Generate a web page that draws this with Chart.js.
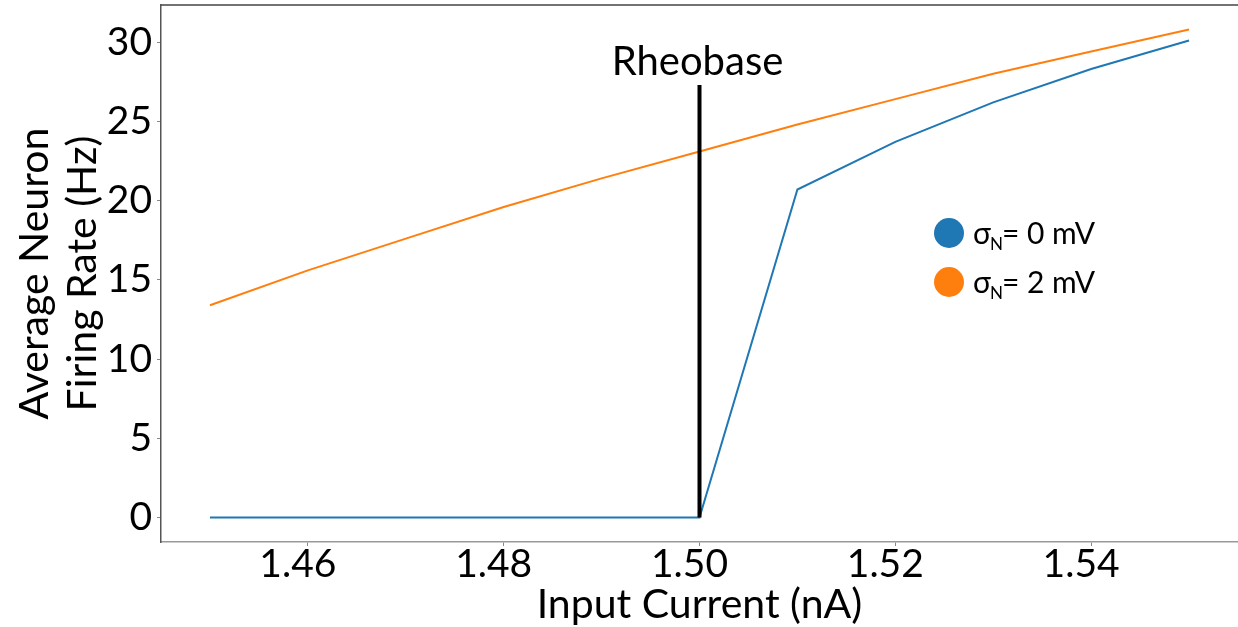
<!DOCTYPE html>
<html>
<head>
<meta charset="utf-8">
<script src="https://cdn.jsdelivr.net/npm/chart.js@4.4.1/dist/chart.umd.min.js"></script>
<style>
  body { margin: 0; background: #fff; }
  canvas { display: block; }
</style>
</head>
<body>
<canvas id="rateChart" width="1238" height="627"></canvas>
<script>
// input current (nA) and firing rates (Hz)
const currents = [1.45, 1.46, 1.47, 1.48, 1.49, 1.50, 1.51, 1.52, 1.53, 1.54, 1.55];
const rateNoise0 = [0, 0, 0, 0, 0, 0, 20.7, 23.7, 26.2, 28.3, 30.1];
const rateNoise2 = [13.4, 15.6, 17.6, 19.6, 21.4, 23.1, 24.8, 26.4, 28.0, 29.4, 30.8];
const seriesNames = ["0 mV", "2 mV"];
const rheobase = 1.50;
const rheobaseMarkTop = 27.3;
const xTicks = [1.46, 1.48, 1.50, 1.52, 1.54];
const yTicks = [0, 5, 10, 15, 20, 25, 30];

const BLUE = "#1f77b4";
const ORANGE = "#ff7f0e";
const FONT = "Lato";

function toPoints(xs, ys) {
    return xs.map((x, i) => ({ x: x, y: ys[i] }));
}

// frame, rheobase label and legend with subscripts
const extras = {
    id: "extras",
    afterDraw(chart) {
        const ctx = chart.ctx;
        const area = chart.chartArea;
        const xs = chart.scales.x;
        const ys = chart.scales.y;
        ctx.save();

        ctx.strokeStyle = "#444";
        ctx.lineWidth = 1.5;
        ctx.beginPath();
        ctx.moveTo(area.left, area.top);
        ctx.lineTo(chart.width, area.top);
        ctx.stroke();

        ctx.fillStyle = "#000";
        ctx.font = "40px " + FONT;
        ctx.textAlign = "center";
        ctx.textBaseline = "alphabetic";
        ctx.fillText("Rheobase", xs.getPixelForValue(rheobase) - 2, ys.getPixelForValue(rheobaseMarkTop) - 10);

        const colors = [BLUE, ORANGE];
        const rows = [233, 282];
        seriesNames.forEach((name, i) => {
            const cy = rows[i];
            ctx.fillStyle = colors[i];
            ctx.beginPath();
            ctx.arc(949, cy, 15, 0, Math.PI * 2);
            ctx.fill();

            ctx.fillStyle = "#000";
            ctx.textAlign = "left";
            ctx.textBaseline = "alphabetic";
            ctx.font = "30px " + FONT;
            let x = 973;
            ctx.fillText("σ", x, cy + 11);
            x += ctx.measureText("σ").width;
            ctx.font = "17px " + FONT;
            ctx.fillText("N", x - 1, cy + 17);
            x += ctx.measureText("N").width - 2;
            ctx.font = "30px " + FONT;
            ctx.fillText("= " + name, x, cy + 11);
        });
        ctx.restore();
    }
};

new Chart(document.getElementById("rateChart").getContext("2d"), {
    type: "line",
    data: {
        datasets: [
            {
                label: "rheobase",
                data: [{ x: rheobase, y: 0 }, { x: rheobase, y: rheobaseMarkTop }],
                borderColor: "#000",
                borderWidth: 4,
                pointRadius: 0,
                order: 0
            },
            {
                label: seriesNames[0],
                data: toPoints(currents, rateNoise0),
                borderColor: BLUE,
                borderWidth: 2,
                pointRadius: 0,
                order: 1
            },
            {
                label: seriesNames[1],
                data: toPoints(currents, rateNoise2),
                borderColor: ORANGE,
                borderWidth: 2,
                pointRadius: 0,
                order: 2
            }
        ]
    },
    options: {
        responsive: false,
        devicePixelRatio: 1,
        animation: false,
        layout: { padding: { top: 5, right: 0, left: 0, bottom: 0 } },
        plugins: {
            legend: { display: false },
            tooltip: { enabled: false }
        },
        scales: {
            x: {
                type: "linear",
                min: 1.445,
                max: 1.555,
                afterBuildTicks: (scale) => { scale.ticks = xTicks.map(v => ({ value: v })); },
                afterFit: (scale) => {
                    scale.height = 85;
                    scale.paddingLeft = 0;
                    scale.paddingRight = 0;
                },
                border: { color: "#999", width: 1.5 },
                grid: { drawOnChartArea: false, tickLength: 4, color: "#888" },
                ticks: {
                    color: "#000",
                    padding: -5,
                    labelOffset: -10,
                    maxRotation: 0,
                    font: { family: FONT, size: 39 },
                    callback: (v) => v.toFixed(2)
                },
                title: {
                    display: true,
                    text: "Input Current (nA)",
                    color: "#000",
                    font: { family: FONT, size: 41, lineHeight: 1.2 },
                    padding: { top: 0, bottom: -2 }
                }
            },
            y: {
                min: -1.54,
                max: 32.34,
                afterBuildTicks: (scale) => { scale.ticks = yTicks.map(v => ({ value: v })); },
                afterFit: (scale) => {
                    scale.width = 161;
                    scale.paddingTop = 0;
                    scale.paddingBottom = 0;
                },
                border: { color: "#555", width: 1.5 },
                grid: { drawOnChartArea: false, tickLength: 4, color: "#888" },
                ticks: {
                    color: "#000",
                    padding: 5,
                    font: { family: FONT, size: 39 }
                },
                title: {
                    display: true,
                    text: ["Average Neuron", "Firing Rate (Hz)"],
                    color: "#000",
                    font: { family: FONT, size: 41, lineHeight: 1.17 },
                    padding: { top: 11, bottom: 0 }
                }
            }
        }
    },
    plugins: [extras]
});
</script>
</body>
</html>
